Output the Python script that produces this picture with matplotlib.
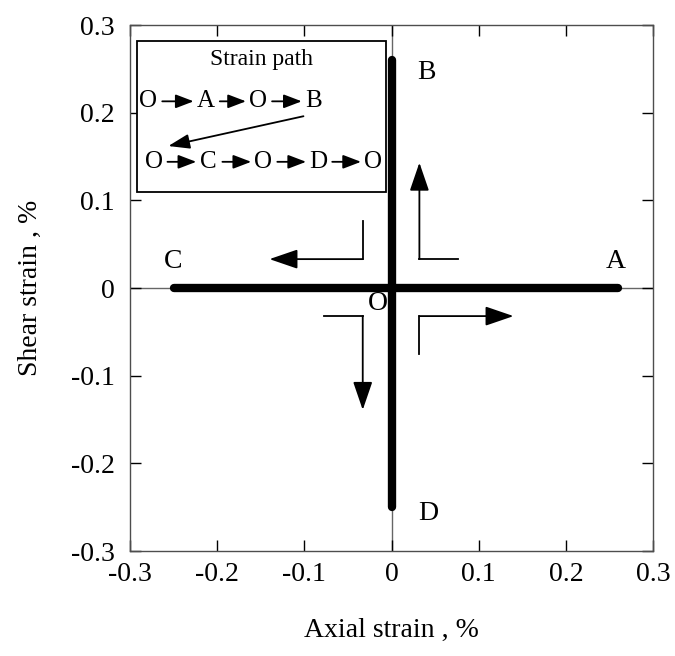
import matplotlib
matplotlib.use("Agg")
import matplotlib.pyplot as plt
from matplotlib.patches import Rectangle

plt.rcParams["font.family"] = ["Liberation Serif", "DejaVu Serif"]

# strain path segments (axial, shear) in %
axial_path_x = [-0.25, 0.26]
axial_path_y = [0.0, 0.0]
shear_path_x = [0.0, 0.0]
shear_path_y = [-0.25, 0.26]

ticks = [-0.3, -0.2, -0.1, 0, 0.1, 0.2, 0.3]
tick_labels = ["-0.3", "-0.2", "-0.1", "0", "0.1", "0.2", "0.3"]

# end point labels
point_names = ["A", "B", "C", "D", "O"]
point_x = [0.257, 0.040, -0.250, 0.042, -0.016]
point_y = [0.030, 0.246, 0.030, -0.257, -0.018]

# L-shaped direction arrows: start, corner, tip
dir_arrows = [
    [(-0.033, 0.076), (-0.033, 0.033), (-0.140, 0.033)],   # towards C
    [(0.076, 0.033), (0.032, 0.033), (0.032, 0.143)],      # towards B
    [(-0.077, -0.032), (-0.033, -0.032), (-0.033, -0.139)],  # towards D
    [(0.032, -0.075), (0.032, -0.032), (0.140, -0.032)],   # towards A
]

# inset "Strain path" diagram
inset_box = (-0.292, 0.109, 0.286, 0.173)   # x, y, w, h
row1_letters = ["O", "A", "O", "B"]
row1_x = [-0.279, -0.213, -0.153, -0.089]
row1_y = 0.213
row2_letters = ["O", "C", "O", "D", "O"]
row2_x = [-0.273, -0.210, -0.147, -0.084, -0.021]
row2_y = 0.144
link_start = (-0.101, 0.196)
link_end = (-0.256, 0.162)

fig = plt.figure(figsize=(6.75, 6.56), dpi=100)
ax = fig.add_axes([0.1926, 0.160, 0.7748, 0.8018])

ax.axhline(0, color="0.4", lw=1, zorder=1)
ax.axvline(0, color="0.4", lw=1, zorder=1)

ax.plot(axial_path_x, axial_path_y, color="black", lw=6,
        solid_capstyle="round", zorder=3)
ax.plot(shear_path_x, shear_path_y, color="black", lw=6,
        solid_capstyle="round", zorder=3)

for name, x, y in zip(point_names, point_x, point_y):
    ax.text(x, y, name, fontsize=20, ha="center", va="center", zorder=4)

for start, corner, tip in dir_arrows:
    ax.plot([start[0], corner[0]], [start[1], corner[1]], color="black", lw=1.3)
    ax.annotate("", xy=tip, xytext=corner,
                arrowprops=dict(arrowstyle="-|>,head_length=1.75,head_width=0.6",
                                mutation_scale=10, color="black", lw=1.3,
                                shrinkA=0, shrinkB=0))

# inset
bx, by, bw, bh = inset_box
ax.add_patch(Rectangle((bx, by), bw, bh, fill=True, facecolor="white",
                       edgecolor="black", lw=1.3, zorder=5))
ax.text(bx + bw / 2, 0.261, "Strain path", fontsize=17,
        ha="center", va="center", zorder=6)

small_arrow = dict(arrowstyle="-|>,head_length=1.1,head_width=0.42",
                   mutation_scale=10, color="black", lw=1.3,
                   shrinkA=0, shrinkB=0)
for letters, xs, yrow in [(row1_letters, row1_x, row1_y),
                          (row2_letters, row2_x, row2_y)]:
    for letter, x in zip(letters, xs):
        ax.text(x, yrow, letter, fontsize=18, ha="center", va="center", zorder=6)
    for x0, x1 in zip(xs[:-1], xs[1:]):
        ax.annotate("", xy=(x1 - 0.014, yrow), xytext=(x0 + 0.016, yrow),
                    arrowprops=small_arrow, zorder=6)
ax.annotate("", xy=link_end, xytext=link_start,
            arrowprops=dict(arrowstyle="-|>,head_length=1.3,head_width=0.45",
                            mutation_scale=10, color="black", lw=1.3,
                            shrinkA=0, shrinkB=0), zorder=6)

ax.set_xlim(-0.3, 0.3)
ax.set_ylim(-0.3, 0.3)
ax.set_xticks(ticks)
ax.set_xticklabels(tick_labels)
ax.set_yticks(ticks)
ax.set_yticklabels(tick_labels)
ax.tick_params(direction="in", length=8, width=1, top=True, right=True,
               labelsize=20, color="black")
ax.tick_params(axis="x", pad=8)
ax.tick_params(axis="y", pad=11)
for s in ax.spines.values():
    s.set_color("0.3")
    s.set_linewidth(1)

ax.set_xlabel("Axial strain , %", fontsize=20, labelpad=22)
ax.set_ylabel("Shear strain , %", fontsize=20, labelpad=20)

fig.savefig("out.png", dpi=100)
